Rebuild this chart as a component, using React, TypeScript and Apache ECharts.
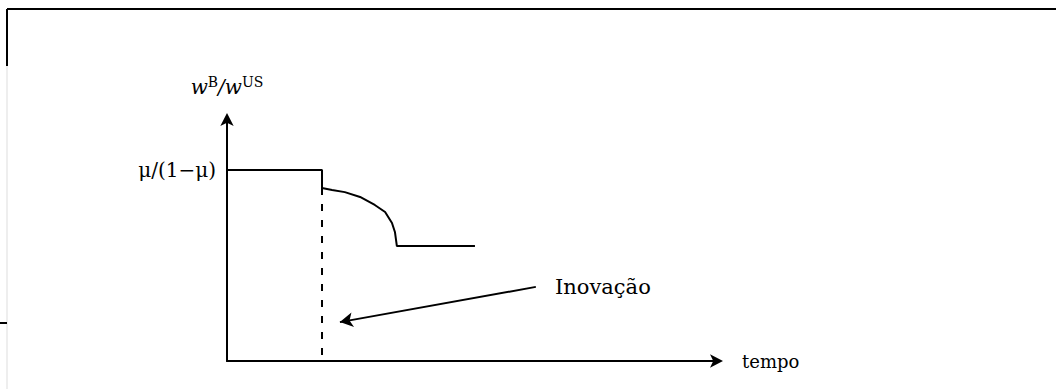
import React, { useEffect, useRef } from "react";
import * as echarts from "echarts";

// Main wage-ratio path (time, ratio) in abstract units
const pathTime = [0, 19.35, 19.35, 21.4, 24.0, 27.1, 30.1, 32.2, 33.6, 34.2, 34.6, 50.5];
const pathRatio = [78.6, 78.6, 71.2, 70.4, 69.5, 67.5, 64.2, 61.3, 56.8, 53.1, 47.3, 47.3];

// Innovation moment (dashed vertical)
const innovationTime = 19.35;
const innovationTop = 71.2;

// Annotation arrow: from label to dashed line
const annotationFrom = [62.9, 30.5];
const annotationTo = [23.0, 16.0];
const annotationLabel = "Inovação";

// Axis tick labels
const yTickValues = [78.6];
const yTickLabels = ["μ/(1−μ)"];
const xAxisName = "tempo";

const FONT = "DejaVu Serif";

export default function App() {
  const ref = useRef<HTMLDivElement>(null);

  useEffect(() => {
    document.body.style.margin = "0";
    const chart = echarts.init(ref.current!, null, { renderer: "svg" });
    const pathData = pathTime.map((t, i) => [t, pathRatio[i]]);
    chart.setOption({
      animation: false,
      backgroundColor: "#ffffff",
      textStyle: { fontFamily: FONT },
      grid: { left: 227, right: 338, top: 118, bottom: 28 },
      xAxis: {
        type: "value",
        min: 0,
        max: 100,
        name: xAxisName,
        nameLocation: "end",
        nameGap: 24,
        nameTextStyle: { fontFamily: FONT, fontSize: 18, color: "#000", verticalAlign: "middle" },
        axisLine: {
          show: true,
          lineStyle: { color: "#000", width: 2 },
          symbol: ["none", "arrow"],
          symbolSize: [10, 13],
          symbolOffset: [0, 5],
        },
        axisTick: { show: false },
        axisLabel: { show: false },
        splitLine: { show: false },
      },
      yAxis: {
        type: "value",
        min: 0,
        max: 100,
        name: "{b|w}{s|B}{b|/w}{s|US}",
        nameLocation: "end",
        nameGap: 20,
        nameTextStyle: {
          align: "center",
          rich: {
            b: { fontFamily: FONT, fontSize: 20, color: "#000", fontStyle: "italic" },
            s: { fontFamily: FONT, fontSize: 14, color: "#000", verticalAlign: "top", padding: [0, 0, 9, 0] },
          },
        },
        axisLine: {
          show: true,
          lineStyle: { color: "#000", width: 2 },
          symbol: ["none", "arrow"],
          symbolSize: [10, 13],
          symbolOffset: [0, 5],
        },
        axisTick: { show: false },
        axisLabel: {
          show: true,
          customValues: yTickValues,
          formatter: (v: number) => {
            const i = yTickValues.indexOf(v);
            return i >= 0 ? yTickLabels[i] : "";
          },
          fontFamily: FONT,
          fontSize: 20,
          color: "#000",
          margin: 11,
        },
        splitLine: { show: false },
      },
      series: [
        {
          type: "line",
          data: pathData,
          symbol: "none",
          lineStyle: { color: "#000", width: 2 },
        },
        {
          type: "line",
          data: [
            [innovationTime, innovationTop],
            [innovationTime, 0],
          ],
          symbol: "none",
          lineStyle: { color: "#000", width: 2, type: [7, 9] },
        },
        {
          type: "line",
          data: [],
          markLine: {
            silent: true,
            symbol: ["none", "arrow"],
            symbolSize: [11, 13],
            label: { show: false },
            lineStyle: { color: "#000", width: 2, type: "solid" },
            data: [
              [
                { coord: annotationFrom },
                { coord: annotationTo },
              ],
            ],
          },
        },
      ],
      graphic: [
        { type: "line", shape: { x1: 7, y1: 9, x2: 1056, y2: 9 }, style: { stroke: "#000", lineWidth: 2 } },
        { type: "line", shape: { x1: 7, y1: 9, x2: 7, y2: 66 }, style: { stroke: "#000", lineWidth: 2 } },
        { type: "line", shape: { x1: 7, y1: 66, x2: 7, y2: 389 }, style: { stroke: "#dddddd", lineWidth: 1 } },
        { type: "line", shape: { x1: 0, y1: 323, x2: 7, y2: 323 }, style: { stroke: "#000", lineWidth: 2 } },
        {
          type: "text",
          x: 555,
          y: 287,
          style: { text: annotationLabel, fontFamily: FONT, fontSize: 21, fill: "#000", verticalAlign: "middle" },
        },
      ],
    });
    return () => chart.dispose();
  }, []);

  return <div ref={ref} style={{ width: 1056, height: 389 }} />;
}
